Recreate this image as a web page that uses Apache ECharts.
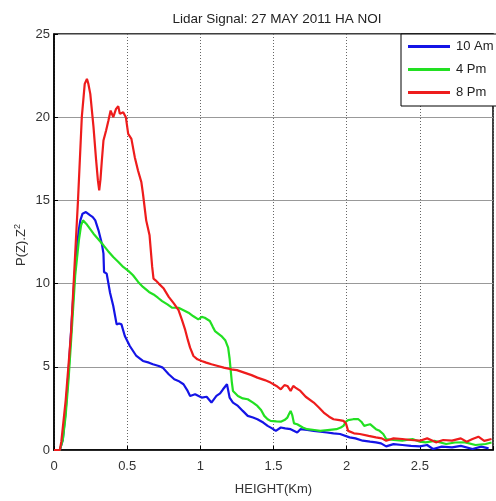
<!DOCTYPE html>
<html>
<head>
<meta charset="utf-8">
<script src="https://cdn.jsdelivr.net/npm/echarts@6/dist/echarts.min.js"></script>
<style>html,body{margin:0;padding:0;background:#fff}#c{width:496px;height:501px}</style>
</head>
<body>
<div id="c"></div>
<script>
var titleText = 'Lidar Signal: 27 MAY 2011 HA NOI';
var yAxisTitle = 'P(Z).Z';
var yAxisTitleSup = '2';
var seriesNames = ['10 Am', '4 Pm', '8 Pm'];
var xTicks = [0, 0.5, 1, 1.5, 2, 2.5, 3];
var yTicks = [0, 5, 10, 15, 20, 25];

var heightRed = [0,0.04,0.05,0.08,0.1,0.117,0.14,0.164,0.19,0.21,0.225,0.235,0.248,0.27,0.288,0.3,0.309,0.318,0.327,0.338,0.356,0.372,0.387,0.405,0.424,0.439,0.45,0.473,0.491,0.507,0.529,0.552,0.574,0.597,0.608,0.63,0.653,0.671,0.68,0.694,0.716,0.75,0.784,0.82,0.851,0.875,0.897,0.915,0.93,0.953,0.98,1.009,1.04,1.076,1.12,1.16,1.21,1.25,1.3,1.35,1.39,1.44,1.48,1.52,1.55,1.575,1.595,1.617,1.635,1.65,1.684,1.72,1.775,1.81,1.843,1.88,1.91,1.95,1.978,1.995,2.01,2.05,2.09,2.15,2.2,2.24,2.27,2.32,2.38,2.44,2.5,2.55,2.61,2.66,2.72,2.78,2.82,2.86,2.9,2.94,2.99];
var signalRed = [0,0,0.5,3.0,5.2,7.1,11,15,20,22,22.3,22.0,21.4,19.4,17.4,16.2,15.6,16.3,17.4,18.6,19.2,19.8,20.4,20.0,20.5,20.66,20.2,20.3,20.0,19.0,18.7,17.6,16.8,16.1,15.4,13.8,12.9,11.0,10.3,10.2,10.0,9.7,9.2,8.8,8.4,7.8,7.2,6.6,6.15,5.65,5.45,5.35,5.25,5.15,5.05,4.95,4.85,4.8,4.65,4.5,4.35,4.2,4.05,3.85,3.65,3.9,3.85,3.55,3.85,3.75,3.55,3.2,2.85,2.55,2.25,2.0,1.85,1.8,1.75,1.6,1.15,1.0,0.96,0.85,0.76,0.7,0.56,0.7,0.66,0.6,0.56,0.7,0.46,0.6,0.56,0.7,0.5,0.66,0.8,0.55,0.66];

var heightGreen = [0,0.04,0.06,0.079,0.1,0.12,0.145,0.17,0.185,0.198,0.22,0.245,0.27,0.3,0.338,0.37,0.405,0.44,0.473,0.51,0.54,0.575,0.608,0.649,0.68,0.71,0.739,0.775,0.806,0.851,0.885,0.919,0.95,0.986,1.01,1.03,1.065,1.085,1.1,1.144,1.17,1.19,1.2,1.207,1.215,1.223,1.257,1.29,1.324,1.36,1.39,1.415,1.437,1.46,1.48,1.52,1.55,1.575,1.595,1.608,1.617,1.628,1.64,1.662,1.7,1.73,1.78,1.82,1.87,1.93,1.96,1.978,1.995,2.01,2.045,2.08,2.1,2.12,2.14,2.16,2.18,2.2,2.225,2.25,2.27,2.32,2.38,2.45,2.5,2.54,2.6,2.68,2.74,2.81,2.88,2.95,2.99];
var signalGreen = [0,0,0.6,2.0,4.3,7.0,10.5,12.6,13.5,13.8,13.6,13.3,13.0,12.7,12.3,11.95,11.6,11.3,11.0,10.75,10.5,10.1,9.8,9.5,9.35,9.15,8.95,8.75,8.55,8.55,8.4,8.25,8.05,7.85,8.0,7.95,7.75,7.4,7.15,6.85,6.6,6.15,5.5,4.85,4.1,3.55,3.25,3.1,3.05,2.85,2.65,2.4,2.05,1.85,1.75,1.72,1.7,1.8,1.95,2.2,2.35,2.1,1.6,1.55,1.35,1.25,1.2,1.15,1.2,1.25,1.35,1.45,1.7,1.8,1.85,1.85,1.7,1.45,1.5,1.55,1.4,1.25,1.15,0.96,0.66,0.6,0.56,0.66,0.5,0.46,0.55,0.36,0.45,0.46,0.3,0.36,0.45];

var heightBlue = [0,0.04,0.06,0.08,0.1,0.12,0.14,0.155,0.169,0.18,0.195,0.218,0.23,0.248,0.265,0.282,0.304,0.327,0.338,0.342,0.36,0.383,0.405,0.428,0.445,0.461,0.484,0.518,0.563,0.608,0.649,0.676,0.716,0.743,0.784,0.822,0.85,0.885,0.91,0.93,0.964,1.009,1.043,1.076,1.11,1.135,1.155,1.182,1.19,1.2,1.223,1.257,1.29,1.324,1.36,1.39,1.43,1.46,1.49,1.516,1.55,1.58,1.617,1.662,1.684,1.73,1.775,1.82,1.865,1.91,1.955,2.02,2.06,2.11,2.16,2.2,2.235,2.27,2.32,2.38,2.44,2.5,2.55,2.59,2.65,2.72,2.78,2.86,2.92,2.97];
var signalBlue = [0,0,0.6,2.4,4.8,7.6,10.4,12.0,13.2,13.8,14.2,14.3,14.2,14.1,14.0,13.8,13.2,12.4,11.8,10.7,10.6,9.45,8.65,7.55,7.6,7.55,6.85,6.25,5.65,5.35,5.25,5.15,5.05,4.95,4.55,4.25,4.15,3.95,3.6,3.25,3.35,3.15,3.2,2.85,3.25,3.4,3.65,3.95,3.6,3.15,2.85,2.65,2.35,2.05,1.95,1.85,1.65,1.45,1.3,1.15,1.35,1.3,1.25,1.05,1.25,1.2,1.15,1.1,1.05,1.0,0.96,0.76,0.7,0.56,0.5,0.46,0.4,0.22,0.35,0.3,0.25,0.22,0.3,0.06,0.2,0.16,0.25,0.06,0.2,0.1];

function pairs(xs, ys) { return xs.map(function (x, i) { return [x, ys[i]]; }); }

var FONT = '"Liberation Sans", Arial, sans-serif';
var chart = echarts.init(document.getElementById('c'), null, {renderer: 'canvas'});
chart.setOption({
  animation: false,
  backgroundColor: '#fff',
  textStyle: {fontFamily: FONT},
  title: {
    text: titleText, left: 272, top: 7, textAlign: 'center',
    textStyle: {fontSize: 13.5, fontWeight: 'normal', color: '#222', fontFamily: FONT}
  },
  graphic: [{
    type: 'text', x: 21, y: 245, rotation: Math.PI / 2,
    style: {
      text: '{a|' + yAxisTitle + '}{s|' + yAxisTitleSup + '}',
      align: 'center', verticalAlign: 'middle',
      rich: {
        a: {fontSize: 13, fill: '#333', fontFamily: FONT},
        s: {fontSize: 9, fill: '#333', fontFamily: FONT, verticalAlign: 'top', padding: [0, 0, 7, 0]}
      }
    }
  }],
  grid: {left: 54, top: 34, width: 444, height: 417, show: true, borderColor: '#000', borderWidth: 1.5, containLabel: false},
  legend: {
    orient: 'vertical', left: 401, top: 34,
    data: seriesNames.map(function (n) { return {name: n, icon: 'rect'}; }),
    itemWidth: 42, itemHeight: 3, itemGap: 8,
    padding: [5, 12, 6, 7],
    backgroundColor: '#fff', borderColor: '#000', borderWidth: 1,
    textStyle: {fontSize: 13, color: '#222', fontFamily: FONT, lineHeight: 15, padding: [0, 0, 0, 1]}
  },
  xAxis: {
    type: 'value', min: xTicks[0], max: xTicks[xTicks.length - 1], interval: 0.5,
    name: 'HEIGHT(Km)', nameLocation: 'middle', nameGap: 33,
    nameTextStyle: {fontSize: 13, color: '#333', fontFamily: FONT},
    axisLine: {show: true, lineStyle: {color: '#000', width: 1.5}},
    axisTick: {show: true, inside: true, length: 4, lineStyle: {color: '#000'}},
    axisLabel: {fontSize: 13, color: '#333', margin: 10, fontFamily: FONT,
      formatter: function (v) { return v === 3 ? '' : String(v); }},
    splitLine: {show: true, lineStyle: {color: '#666', type: [1, 2], width: 1}}
  },
  yAxis: {
    type: 'value', min: yTicks[0], max: yTicks[yTicks.length - 1], interval: 5,
    axisLine: {show: true, lineStyle: {color: '#000', width: 1.5}},
    axisTick: {show: true, inside: true, length: 4, lineStyle: {color: '#000'}},
    axisLabel: {fontSize: 13, color: '#333', margin: 4, fontFamily: FONT},
    splitLine: {show: true, lineStyle: {color: '#999', width: 1}}
  },
  series: [
    {name: seriesNames[0], type: 'line', symbol: 'none', data: pairs(heightBlue, signalBlue), lineStyle: {color: '#1414e6', width: 2.2}, itemStyle: {color: '#1414e6'}},
    {name: seriesNames[1], type: 'line', symbol: 'none', data: pairs(heightGreen, signalGreen), lineStyle: {color: '#22e022', width: 2.2}, itemStyle: {color: '#22e022'}},
    {name: seriesNames[2], type: 'line', symbol: 'none', data: pairs(heightRed, signalRed), lineStyle: {color: '#ee1c1c', width: 2.2}, itemStyle: {color: '#ee1c1c'}}
  ]
});
</script>
</body>
</html>
